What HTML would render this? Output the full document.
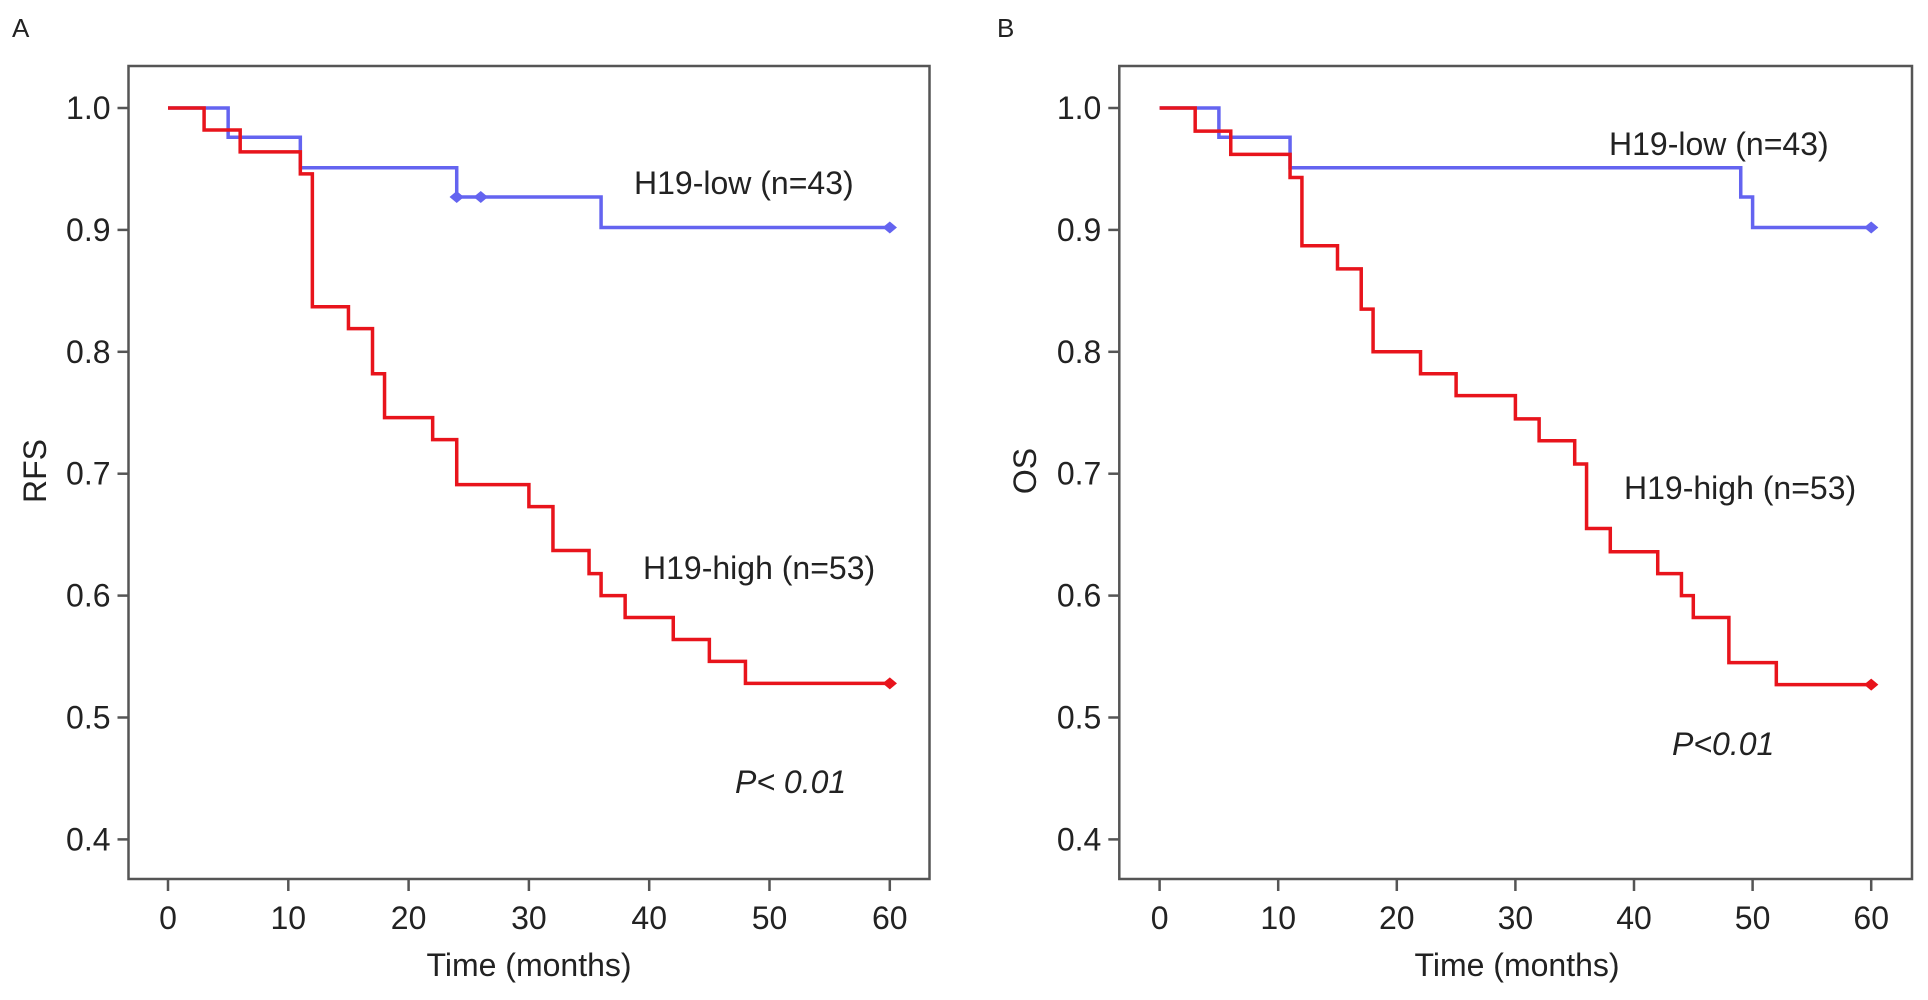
<!DOCTYPE html>
<html><head><meta charset="utf-8"><style>
html,body{margin:0;padding:0;background:#fff;}
svg text{font-family:"Liberation Sans",Arial,sans-serif;fill:#222;}
</style></head><body>
<svg id="chart" width="1928" height="995" viewBox="0 0 1928 995" xmlns="http://www.w3.org/2000/svg"></svg>
<script>
const xTicks=[0,10,20,30,40,50,60];
const yTicks=[0.4,0.5,0.6,0.7,0.8,0.9,1.0];
const yTickLabels=["0.4","0.5","0.6","0.7","0.8","0.9","1.0"];
// Panel A (RFS)
const aHighTimes=[0,3,6,11,12,15,17,18,22,24,30,32,35,36,38,42,45,48,60];
const aHighSurv=[1.0,0.982,0.964,0.946,0.837,0.819,0.782,0.746,0.728,0.691,0.673,0.637,0.618,0.600,0.582,0.564,0.546,0.528,0.528];
const aLowTimes=[0,5,11,24,36,60];
const aLowSurv=[1.0,0.976,0.951,0.927,0.902,0.902];
const aLowCensor=[24,26,60];
const aHighCensor=[60];
// Panel B (OS)
const bHighTimes=[0,3,6,11,12,15,17,18,22,25,30,32,35,36,38,42,44,45,48,52,60];
const bHighSurv=[1.0,0.981,0.962,0.943,0.887,0.868,0.835,0.800,0.782,0.764,0.745,0.727,0.708,0.655,0.636,0.618,0.600,0.582,0.545,0.527,0.527];
const bLowTimes=[0,5,11,49,50,60];
const bLowSurv=[1.0,0.976,0.951,0.927,0.902,0.902];
const bLowCensor=[60];
const bHighCensor=[60];

const NS="http://www.w3.org/2000/svg";
const svg=document.getElementById('chart');
function mk(tag,attrs,parent){const e=document.createElementNS(NS,tag);for(const k in attrs)e.setAttribute(k,attrs[k]);(parent||svg).appendChild(e);return e;}

const panels=[
 {id:'a',letter:'A',lx:12,box:[128.5,66,929.5,879],x0:168,per10:120.3,ylab:'RFS',ylx:46,
  high:[aHighTimes,aHighSurv,aHighCensor],low:[aLowTimes,aLowSurv,aLowCensor],
  lowLab:[634,194,'H19-low (n=43)'],highLab:[643,579,'H19-high (n=53)'],pLab:[735,793,'P< 0.01'],timeX:529},
 {id:'b',letter:'B',lx:997,box:[1119.3,66,1912,879],x0:1159.6,per10:118.6,ylab:'OS',ylx:1036,
  high:[bHighTimes,bHighSurv,bHighCensor],low:[bLowTimes,bLowSurv,bLowCensor],
  lowLab:[1609,155,'H19-low (n=43)'],highLab:[1624,499,'H19-high (n=53)'],pLab:[1672,755,'P<0.01'],timeX:1517}
];
const y1=108, perY=121.9;
panels.forEach(p=>{
  const g=mk('g',{});
  
  
  const xs=t=>p.x0+t/10*p.per10;
  const ys=v=>y1+(1-v)/0.1*perY;
  const L=mk('text',{x:p.lx,y:37,'font-size':26},g);L.textContent=p.letter;
  
  const [bx1,by1,bx2,by2]=p.box;
  const r=mk('rect',{x:bx1,y:by1,width:bx2-bx1,height:by2-by1,fill:'none',stroke:'#555','stroke-width':2.5},g);
  
  xTicks.forEach(t=>{
    const ln=mk('line',{x1:xs(t),x2:xs(t),y1:by2,y2:by2+12,stroke:'#555','stroke-width':2.5},g);
    
    const tx=mk('text',{x:xs(t),y:929,'font-size':32,'text-anchor':'middle'},g);tx.textContent=String(t);
    
  });
  yTicks.forEach((v,i)=>{
    const ln=mk('line',{x1:bx1-11,x2:bx1,y1:ys(v),y2:ys(v),stroke:'#555','stroke-width':2.5},g);
    
    const tx=mk('text',{x:bx1-18,y:ys(v)+11,'font-size':32,'text-anchor':'end'},g);tx.textContent=yTickLabels[i];
    
  });
  const yt=mk('text',{x:p.ylx,y:471,'font-size':32,'text-anchor':'middle',transform:`rotate(-90 ${p.ylx} 471)`},g);yt.textContent=p.ylab;
  
  const xt=mk('text',{x:p.timeX,y:976,'font-size':32,'text-anchor':'middle'},g);xt.textContent='Time (months)';
  
  function curve(data,color,name){
    const [T,S,C]=data;
    let d=`M${xs(T[0])},${ys(S[0])}`;
    for(let i=1;i<T.length;i++){d+=` H${xs(T[i])} V${ys(S[i])}`;}
    const path=mk('path',{d:d,fill:'none',stroke:color,'stroke-width':3.5},g);
    
    C.forEach(c=>{
      let v=S[0];for(let i=0;i<T.length;i++){if(T[i]<=c)v=S[i];}
      const m=mk('path',{d:`M${xs(c)-6},${ys(v)} L${xs(c)},${ys(v)-5} L${xs(c)+6},${ys(v)} L${xs(c)},${ys(v)+5} Z`,fill:color,stroke:color,'stroke-width':1.5},g);
      
    });
  }
  curve(p.low,'#6464f0','h19-low');
  curve(p.high,'#e8141c','h19-high');
  [[p.lowLab,'h19-low-label',false],[p.highLab,'h19-high-label',false],[p.pLab,'p-value-label',true]].forEach(([lab,nm,it])=>{
    const t=mk('text',{x:lab[0],y:lab[1],'font-size':32},g);t.textContent=lab[2];
    if(it)t.setAttribute('font-style','italic');
    
  });
});
</script>
</body></html>
